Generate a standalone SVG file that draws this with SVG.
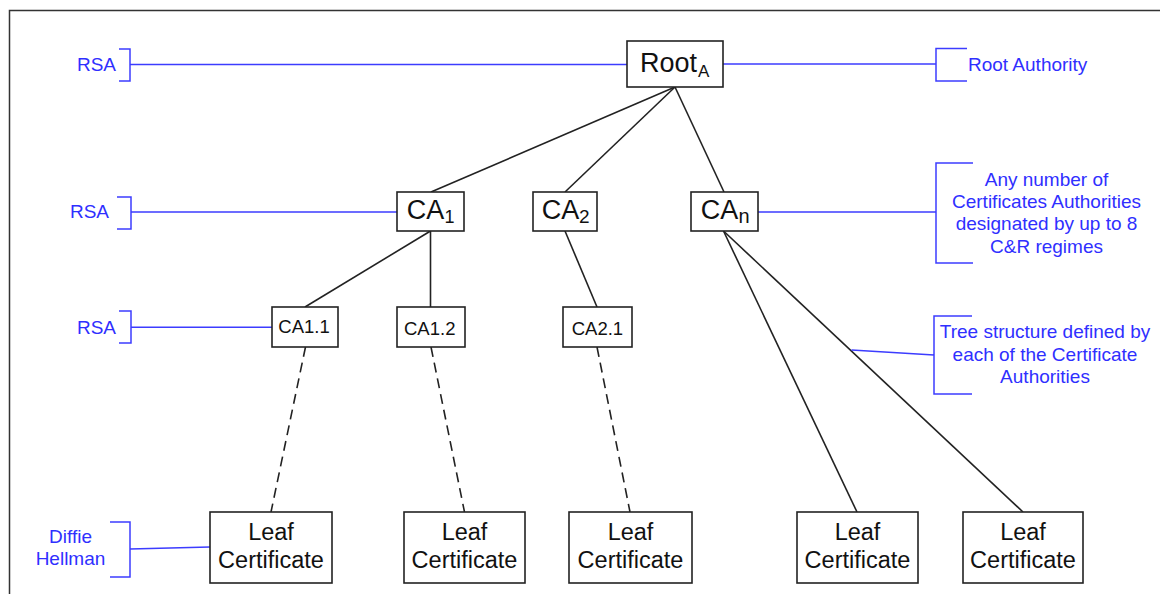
<svg xmlns="http://www.w3.org/2000/svg" width="1160" height="594" viewBox="0 0 1160 594">
<style>
text{font-family:"Liberation Sans",Arial,sans-serif;}
.box{fill:#fff;stroke:#222;stroke-width:1.6;}
.big{font-size:27px;fill:#111;}
.sub{fill:#111;}
.small{font-size:18.5px;fill:#111;}
.leaf{font-size:23.5px;fill:#111;text-anchor:middle;}
.edge{stroke:#222;stroke-width:1.6;fill:none;}
.dash{stroke:#222;stroke-width:1.6;fill:none;stroke-dasharray:10 6;}
.ann{stroke:#3c3cff;stroke-width:1.5;fill:none;}
.lbl{font-size:19px;fill:#2f2fff;}
.frame{stroke:#333;stroke-width:1.5;fill:none;}
</style>
<path class="frame" d="M9.5,594 V10.5 H1160"/>
<g id="connectors">
<line class="edge" x1="675" y1="87" x2="431" y2="192"/>
<line class="edge" x1="675" y1="87" x2="565" y2="192"/>
<line class="edge" x1="675" y1="87" x2="724" y2="192"/>
<line class="edge" x1="430.5" y1="231" x2="305" y2="307"/>
<line class="edge" x1="430.5" y1="231" x2="430.5" y2="307"/>
<line class="edge" x1="565" y1="231" x2="597" y2="307"/>
<line class="edge" x1="723.5" y1="231" x2="857" y2="512"/>
<line class="edge" x1="723.5" y1="231" x2="1023" y2="512"/>
<line class="dash" x1="305.5" y1="347" x2="271" y2="512"/>
<line class="dash" x1="431" y1="347" x2="464.5" y2="512"/>
<line class="dash" x1="597" y1="347" x2="630" y2="512"/>
</g>
<g id="annotations">
<g id="ann-rsa1">
<path class="ann" d="M119,49 H130 V81 H119 M130,64.5 H627"/>
<text class="lbl" x="116" y="70.7" text-anchor="end">RSA</text>
</g>
<g id="ann-root">
<path class="ann" d="M723,64 H936 M967,48.5 H936 V81 H967"/>
<text class="lbl" x="968" y="70.7">Root Authority</text>
</g>
<g id="ann-rsa2">
<path class="ann" d="M117,197 H131 V229 H117 M131,212 H397"/>
<text class="lbl" x="109" y="218.3" text-anchor="end">RSA</text>
</g>
<g id="ann-can">
<path class="ann" d="M758,212 H936 M973,163 H936 V263 H973"/>
<text class="lbl" text-anchor="middle"><tspan x="1046.5" y="186">Any number of</tspan><tspan x="1046.5" y="208.2">Certificates Authorities</tspan><tspan x="1046.5" y="230.4">designated by up to 8</tspan><tspan x="1046.5" y="252.6">C&amp;R regimes</tspan></text>
</g>
<g id="ann-rsa3">
<path class="ann" d="M119,311 H131 V343 H119 M131,327.3 H272"/>
<text class="lbl" x="116" y="333.5" text-anchor="end">RSA</text>
</g>
<g id="ann-tree">
<path class="ann" d="M851.5,350 L934,355 M972,316 H934 V394 H972"/>
<text class="lbl" text-anchor="middle"><tspan x="1045" y="338.3">Tree structure defined by</tspan><tspan x="1045" y="360.5">each of the Certificate</tspan><tspan x="1045" y="382.7">Authorities</tspan></text>
</g>
<g id="ann-dh">
<path class="ann" d="M110,522 H130 V577 H110 M130,549 L210,547"/>
<text class="lbl" text-anchor="middle"><tspan x="70.5" y="542.7">Diffie</tspan><tspan x="70.5" y="565">Hellman</tspan></text>
</g>
</g>
<g id="root">
<rect class="box" x="627" y="41" width="96" height="46"/>
<text class="big" x="640" y="71.7">Root</text>
<text class="sub" x="698" y="76.7" font-size="17">A</text>
</g>
<g id="ca1">
<rect class="box" x="397" y="192" width="67" height="39"/>
<text class="big" x="406.7" y="219">CA</text>
<text class="sub" x="444.5" y="223.3" font-size="18">1</text>
</g>
<g id="ca2">
<rect class="box" x="533" y="192" width="64" height="39"/>
<text class="big" x="541.7" y="219">CA</text>
<text class="sub" x="579" y="223.3" font-size="19">2</text>
</g>
<g id="can">
<rect class="box" x="691" y="192" width="67" height="39"/>
<text class="big" x="700.7" y="219">CA</text>
<text class="sub" x="738.5" y="223.3" font-size="20">n</text>
</g>
<g id="ca11">
<rect class="box" x="272" y="307" width="66" height="40"/>
<text class="small" x="278.3" y="332.7">CA1.1</text>
</g>
<g id="ca12">
<rect class="box" x="397" y="307" width="68" height="40"/>
<text class="small" x="404" y="335">CA1.2</text>
</g>
<g id="ca21">
<rect class="box" x="563" y="307" width="69" height="40"/>
<text class="small" x="571.7" y="335">CA2.1</text>
</g>
<g id="leaf1">
<rect class="box" x="210" y="512" width="122" height="71"/>
<text class="leaf"><tspan x="271" y="539.5">Leaf</tspan><tspan x="271" y="568">Certificate</tspan></text>
</g>
<g id="leaf2">
<rect class="box" x="404" y="512" width="121" height="71"/>
<text class="leaf"><tspan x="464.5" y="539.5">Leaf</tspan><tspan x="464.5" y="568">Certificate</tspan></text>
</g>
<g id="leaf3">
<rect class="box" x="569" y="512" width="123" height="71"/>
<text class="leaf"><tspan x="630.5" y="539.5">Leaf</tspan><tspan x="630.5" y="568">Certificate</tspan></text>
</g>
<g id="leaf4">
<rect class="box" x="797" y="512" width="121" height="71"/>
<text class="leaf"><tspan x="857.5" y="539.5">Leaf</tspan><tspan x="857.5" y="568">Certificate</tspan></text>
</g>
<g id="leaf5">
<rect class="box" x="963" y="512" width="120" height="71"/>
<text class="leaf"><tspan x="1023" y="539.5">Leaf</tspan><tspan x="1023" y="568">Certificate</tspan></text>
</g>
</svg>
